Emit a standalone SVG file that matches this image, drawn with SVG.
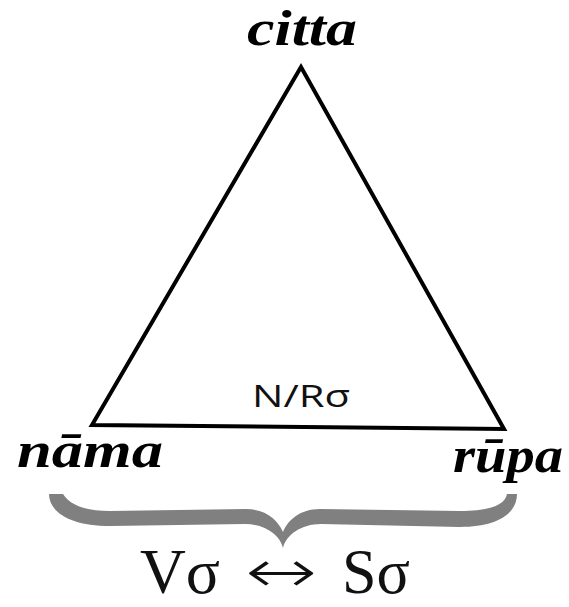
<svg xmlns="http://www.w3.org/2000/svg" width="569" height="607" viewBox="0 0 569 607">
<style>
.lbl{font-family:"Liberation Serif",serif;font-weight:bold;font-style:italic;font-size:50px;fill:#000}
.mid{font-family:"Open Sans","DejaVu Sans",sans-serif;font-size:31px;fill:#111}
.bot{font-family:"Liberation Serif",serif;font-size:63px;fill:#111}
.arr{font-family:"DejaVu Sans",sans-serif;font-weight:200;font-size:60px;fill:#111}
</style>
<rect width="569" height="607" fill="#fff"/>
<g id="connectors">
<polygon points="301,67 92,425 504,429" fill="none" stroke="#000" stroke-width="4" stroke-linejoin="miter"/>
</g>
<g id="citta"><text class="lbl" x="247" y="45" textLength="110" lengthAdjust="spacingAndGlyphs">citta</text></g>
<g id="nama"><text class="lbl" x="17" y="467" textLength="146" lengthAdjust="spacingAndGlyphs">nāma</text></g>
<g id="rupa"><text class="lbl" x="453" y="472" textLength="110" lengthAdjust="spacingAndGlyphs">rūpa</text></g>
<g id="nr"><text class="mid" x="252" y="407" textLength="98" lengthAdjust="spacingAndGlyphs">N/Rσ</text></g>
<g id="brace">
<path d="M49,494 C49,512 70,526 110,526 L245,524 C265,524 280,535 283,548 C286,535 301,524 321,524 L460,527 C500,527 517,512 517,494 L507,494 C505,505 490,511 460,511 L320,509 C300,509 288,520 283,532 C278,520 266,509 246,509 L110,511 C85,511 70,505 63,494 Z" fill="#808080"/>
</g>
<g id="vs">
<text class="bot" x="140" y="593" textLength="80" lengthAdjust="spacingAndGlyphs">Vσ</text>
<text class="arr" transform="translate(245,592) scale(1.44,1)" x="0" y="0">↔</text>
<text class="bot" x="342" y="593" textLength="68" lengthAdjust="spacingAndGlyphs">Sσ</text>
</g>
</svg>
